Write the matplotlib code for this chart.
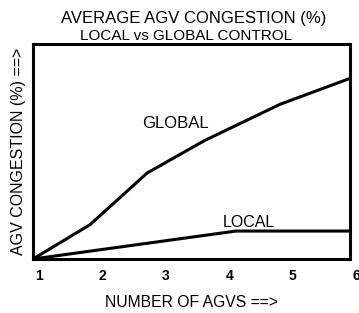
import matplotlib.pyplot as plt
import matplotlib.transforms as mtransforms

agvs = [1, 2, 3, 4, 5, 6]
global_x = [1, 1.9, 2.8, 3.7, 4.9, 6]
global_y = [0, 16, 40, 55, 72, 84]
local_x = [1, 4.2, 6]
local_y = [0, 13, 13]

plt.rcParams['font.family'] = ['Liberation Sans', 'DejaVu Sans']

fig = plt.figure(figsize=(3.59, 3.13), dpi=100)
ax = fig.add_axes([0.092, 0.1725, 0.883, 0.687])

ax.plot(global_x, global_y, color='black', linewidth=2.2, solid_joinstyle='miter')
ax.plot(local_x, local_y, color='black', linewidth=2.2)

ax.set_xlim(1, 6)
ax.set_ylim(0, 100)
ax.set_xticks(agvs)
ax.set_xticklabels([str(a) for a in agvs], fontsize=10, fontweight='bold')
ax.tick_params(axis='x', length=0, pad=7)
ax.set_yticks([])
offset = mtransforms.ScaledTranslation(6 / 100, 0, fig.dpi_scale_trans)
for lbl in ax.get_xticklabels():
    lbl.set_transform(lbl.get_transform() + offset)

for spine in ax.spines.values():
    spine.set_linewidth(2.2)

ax.text(3.25, 63, 'GLOBAL', fontsize=12, ha='center', va='center')
ax.text(4.4, 17, 'LOCAL', fontsize=11.5, ha='center', va='center')

ax.set_xlabel('NUMBER OF AGVS ==>', fontsize=11.3, labelpad=9)
ax.set_ylabel('AGV CONGESTION (%) ==>', fontsize=11.5, labelpad=5)

fig.text(0.54, 0.942, 'AVERAGE AGV CONGESTION (%)', fontsize=12, ha='center', va='center')
fig.text(0.518, 0.884, 'LOCAL vs GLOBAL CONTROL', fontsize=11, ha='center', va='center')

fig.savefig('out.png', dpi=100)
